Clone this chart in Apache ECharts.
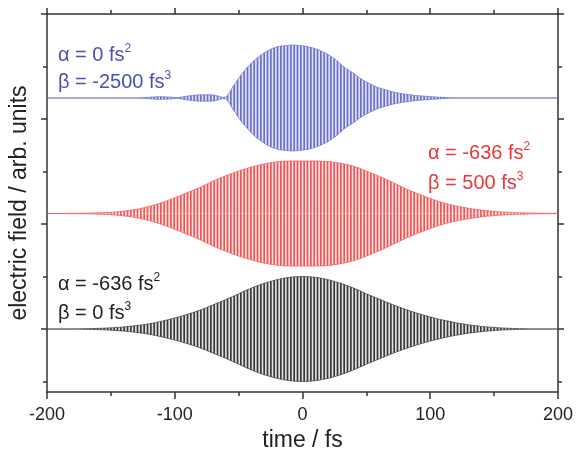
<!DOCTYPE html>
<html>
<head>
<meta charset="utf-8">
<script src="https://cdn.jsdelivr.net/npm/echarts@6/dist/echarts.min.js"></script>
<style>
  html, body { margin: 0; padding: 0; background: #fff; }
  #chart { width: 576px; height: 457px; }
</style>
</head>
<body>
<div id="chart"></div>
<script>
// time axis (fs) and envelope amplitudes
var tGrid = [-200, -190, -180, -170, -160, -150, -140, -130, -120, -110, -100, -90, -80, -70, -60, -50, -40, -30, -20, -10,
  0, 10, 20, 30, 40, 50, 60, 70, 80, 90, 100, 110, 120, 130, 140, 150, 160, 170, 180, 190, 200];

var envBlack = [0, 0, 0, 0.005, 0.012, 0.022, 0.04, 0.065, 0.1, 0.15, 0.21, 0.28, 0.36, 0.46, 0.56, 0.67, 0.78, 0.87, 0.94, 0.985,
  1.0, 0.985, 0.94, 0.87, 0.78, 0.67, 0.57, 0.47, 0.38, 0.30, 0.23, 0.17, 0.12, 0.08, 0.05, 0.03, 0.015, 0.007, 0, 0, 0];

var envRed = [0, 0, 0.003, 0.006, 0.012, 0.022, 0.045, 0.08, 0.135, 0.21, 0.3, 0.4, 0.5, 0.62, 0.72, 0.81, 0.885, 0.945, 0.985, 1.0,
  1.0, 1.0, 0.99, 0.955, 0.9, 0.81, 0.71, 0.6, 0.48, 0.38, 0.285, 0.205, 0.145, 0.1, 0.065, 0.04, 0.024, 0.014, 0.008, 0.004, 0.002];

var tBlue = [-200, -130, -120, -112, -105, -98, -92, -86, -80, -74, -68, -64, -61, -58, -55, -52, -49, -45, -40, -35, -30, -24,
  -18, -12, -8, -3, 2, 8, 14, 20, 27, 33, 40, 46, 52, 59, 66, 72, 80, 88, 98, 110, 120, 200];
var envBlue = [0, 0, 0.015, 0.025, 0.02, 0.008, 0.03, 0.05, 0.06, 0.06, 0.05, 0.02, 0.015, 0.07, 0.19, 0.3, 0.41, 0.53, 0.665, 0.77, 0.86, 0.94,
  0.985, 1.0, 1.01, 1.0, 0.985, 0.955, 0.9, 0.83, 0.71, 0.58, 0.47, 0.36, 0.28, 0.2, 0.15, 0.11, 0.075, 0.05, 0.03, 0.012, 0, 0];

// vertical offsets of the three traces
var baseBlack = 1.0;
var baseRed = 3.2;
var baseBlue = 5.4;

var xTicks = [-200, -100, 0, 100, 200];
var yMajor = [1, 3, 5, 7];
var yMinor = [0, 2, 4, 6];

var FONT = '"Liberation Sans", Arial, sans-serif';
var AXIS = '#333';

// striped fill that stands in for the dense carrier oscillation
function stripes(dark, light) {
  var c = document.createElement('canvas');
  c.width = 10;
  c.height = 4;
  var g = c.getContext('2d');
  g.fillStyle = light;
  g.fillRect(0, 0, 10, 4);
  g.fillStyle = dark;
  for (var k = 0; k < 3; k++) {
    g.fillRect(k * 10 / 3, 0, 1.7, 4);
  }
  return { image: c, repeat: 'repeat' };
}

function pulse(name, times, env, base, stripe, light) {
  var up = [], lo = [];
  for (var i = 0; i < times.length; i++) {
    up.push([times[i], base + env[i]]);
    lo.push([times[i], base - env[i]]);
  }
  var common = {
    type: 'line',
    symbol: 'none',
    smooth: 0.3,
    silent: true,
    lineStyle: { color: stripe, width: 1, opacity: 0.7 },
    areaStyle: { origin: base, color: stripes(stripe, light), opacity: 1 }
  };
  return [
    Object.assign({ name: name + ' +', data: up }, common),
    Object.assign({ name: name + ' -', data: lo }, common)
  ];
}

function label(x, y, main, sup, color) {
  return {
    type: 'text',
    left: x,
    top: y - 12,
    style: {
      text: main + '{s|' + sup + '}',
      font: '20px ' + FONT,
      fill: color,
      rich: {
        s: { fontSize: 12, fontFamily: FONT, fill: color, verticalAlign: 'top', lineHeight: 24 }
      }
    }
  };
}

var yCommon = function (pos, ticks, len, line) {
  return {
    type: 'value', position: pos, min: -0.2, max: 7,
    axisLine: { show: line, onZero: false, lineStyle: { color: AXIS, width: 1.5 } },
    axisTick: { show: true, customValues: ticks, length: len, lineStyle: { color: AXIS, width: 1.5 } },
    axisLabel: { show: false },
    splitLine: { show: false }
  };
};

var yLeft = yCommon('left', yMajor, 6, true);
yLeft.name = 'electric field / arb. units';
yLeft.nameLocation = 'middle';
yLeft.nameGap = 16;
yLeft.nameTextStyle = { fontFamily: FONT, fontSize: 23, color: '#222' };

var chart = echarts.init(document.getElementById('chart'));
chart.setOption({
  animation: false,
  backgroundColor: '#fff',
  grid: { left: 46, right: 16, top: 14, bottom: 58.5 },
  xAxis: [{
    type: 'value', position: 'bottom', min: -200, max: 200, interval: 100,
    name: 'time / fs', nameLocation: 'middle', nameGap: 37,
    nameTextStyle: { fontFamily: FONT, fontSize: 23, color: '#222' },
    axisLine: { onZero: false, lineStyle: { color: AXIS, width: 1.5 } },
    axisTick: { length: 7, lineStyle: { color: AXIS, width: 1.5 } },
    minorTick: { show: true, splitNumber: 2, length: 4, lineStyle: { color: AXIS, width: 1.5 } },
    axisLabel: { fontFamily: FONT, fontSize: 18, color: '#222', margin: 14,
      customValues: xTicks },
    splitLine: { show: false }
  }, {
    type: 'value', position: 'top', min: -200, max: 200, interval: 100,
    axisLine: { onZero: false, lineStyle: { color: AXIS, width: 1.5 } },
    axisTick: { length: 6, lineStyle: { color: AXIS, width: 1.5 } },
    minorTick: { show: true, splitNumber: 2, length: 4, lineStyle: { color: AXIS, width: 1.5 } },
    axisLabel: { show: false },
    splitLine: { show: false }
  }],
  yAxis: [
    yLeft,
    yCommon('left', yMinor, 4, false),
    yCommon('right', yMajor, 6, true),
    yCommon('right', yMinor, 4, false)
  ],
  series: [].concat(
    pulse('black', tGrid, envBlack, baseBlack, '#3a3a3a', '#e2e2e2'),
    pulse('red', tGrid, envRed, baseRed, '#f05454', '#fde2e2'),
    pulse('blue', tBlue, envBlue, baseBlue, '#6a6fca', '#e2e3f6')
  ),
  graphic: [
    label(58, 55, 'α = 0 fs', '2', '#4a50b4'),
    label(58, 82, 'β = -2500 fs', '3', '#4a50b4'),
    label(428, 153, 'α = -636 fs', '2', '#e8383a'),
    label(428, 183, 'β = 500 fs', '3', '#e8383a'),
    label(58, 284, 'α = -636 fs', '2', '#222'),
    label(58, 313, 'β = 0 fs', '3', '#222')
  ]
});
</script>
</body>
</html>
